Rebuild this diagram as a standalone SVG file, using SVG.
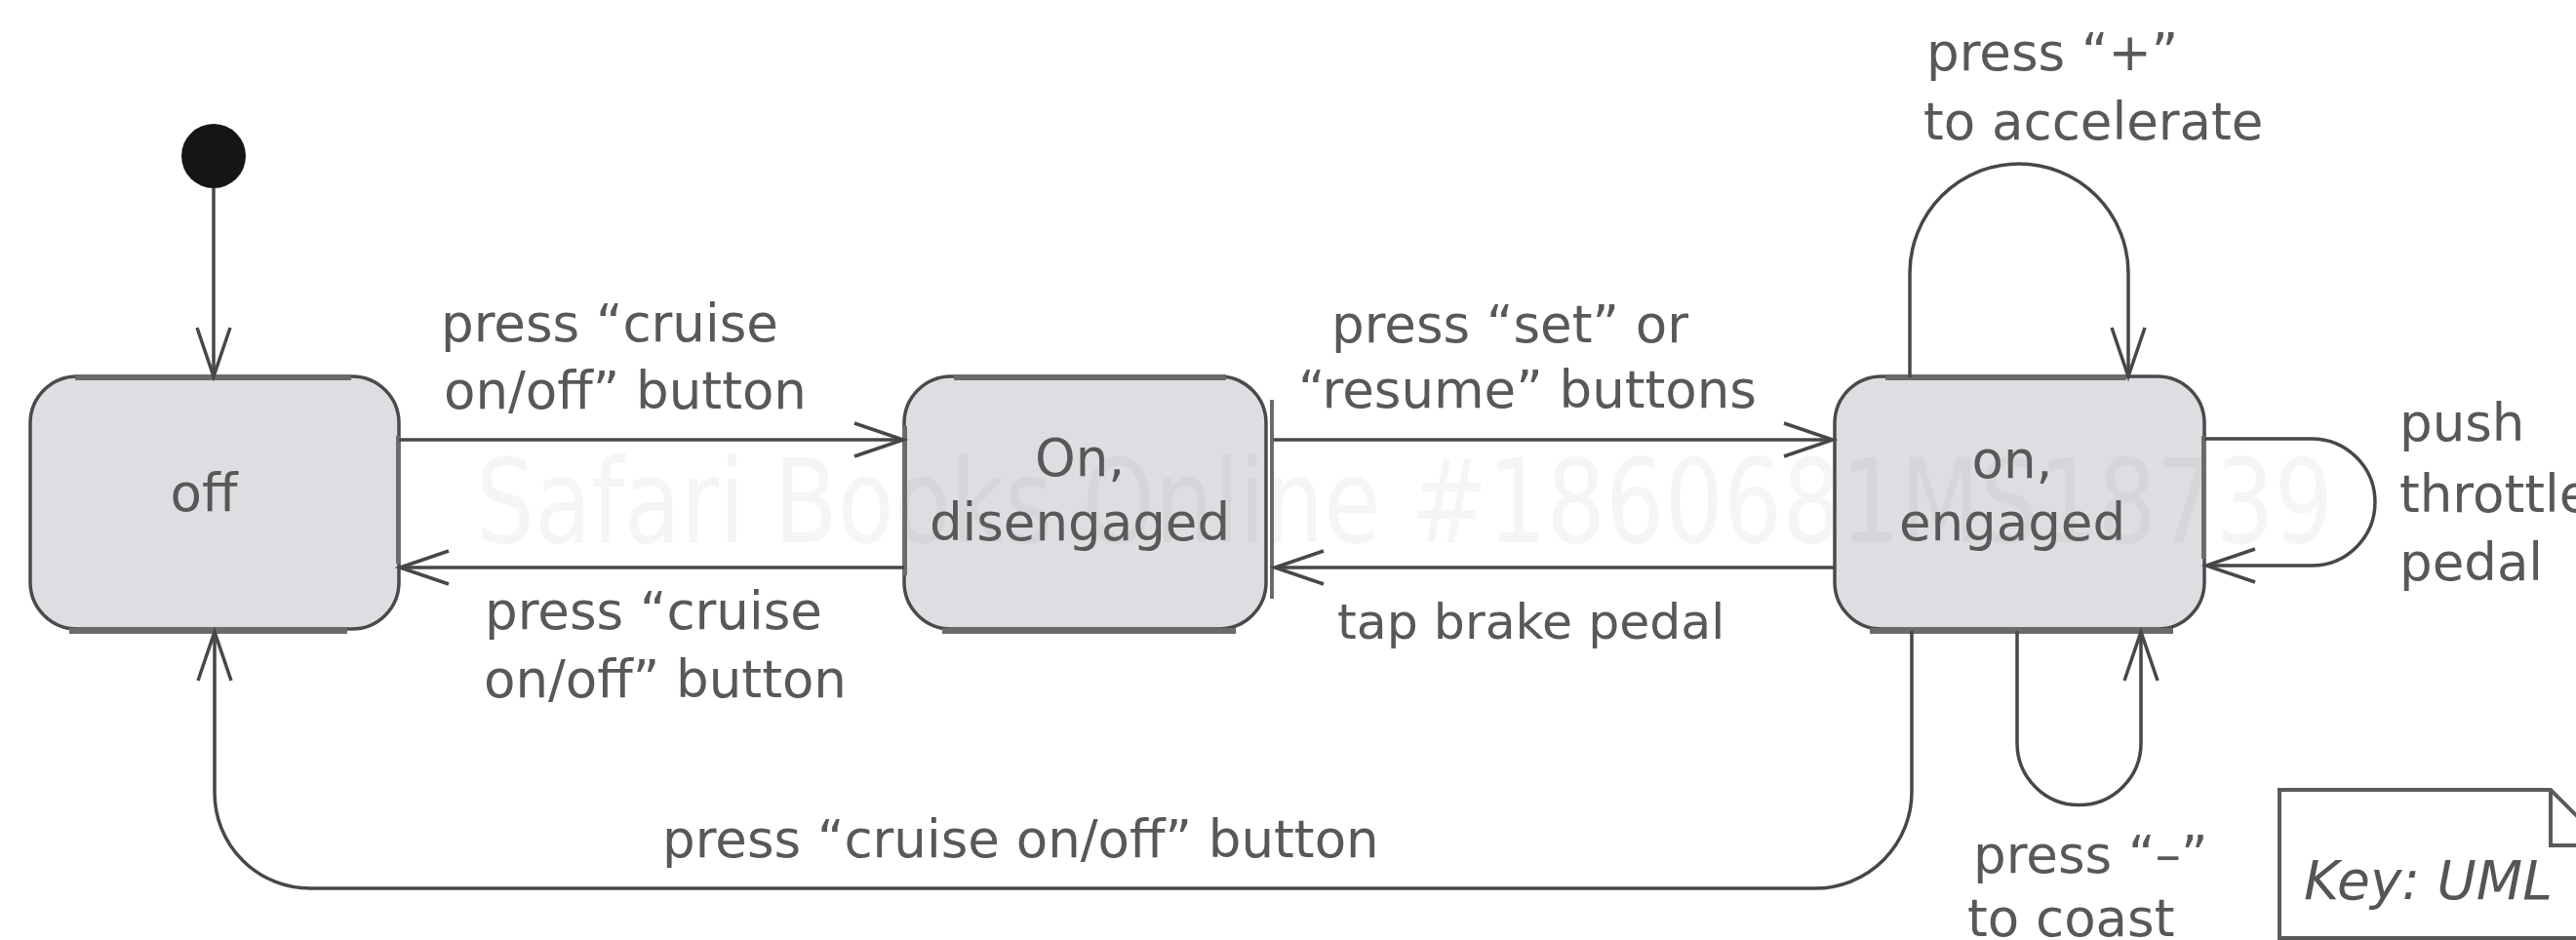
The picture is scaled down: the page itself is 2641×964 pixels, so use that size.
<svg xmlns="http://www.w3.org/2000/svg" width="2641" height="964" viewBox="0 0 2641 964">
<style>
.node{fill:#dedee2;stroke:#4a4a4a;stroke-width:3.5}
.bar{stroke:#6a6a6a;stroke-width:6;fill:none}
.edge{fill:none;stroke:#474747;stroke-width:3.5}
.lbl{font-family:"DejaVu Sans",Verdana,sans-serif;font-size:53px;fill:#585858}
.mid{text-anchor:middle}
.key{font-family:"DejaVu Sans",Verdana,sans-serif;font-size:55px;font-style:italic;fill:#555}
.wm{font-family:"DejaVu Sans",Verdana,sans-serif;font-size:120px;fill:#808080;fill-opacity:0.08}
</style>
<defs>
<marker id="arr" markerUnits="userSpaceOnUse" markerWidth="64" markerHeight="44" viewBox="-56 -22 64 44" refX="0" refY="0" orient="auto">
<path d="M-50,-17 L0,0 L-50,17" fill="none" stroke="#474747" stroke-width="3.5"/>
</marker>
</defs>
<rect width="2641" height="964" fill="#ffffff"/>

<g id="initial">
<circle cx="219" cy="160" r="33" fill="#151515"/>
</g>

<g id="off">
<rect class="node" x="31" y="386" width="378" height="259" rx="48" ry="48"/>
<line class="bar" x1="77" y1="387" x2="360" y2="387"/>
<line class="bar" x1="71" y1="647" x2="356" y2="647"/>
<line class="bar" x1="408" y1="447" x2="408" y2="578" style="stroke-width:4"/>
<text class="lbl" x="209" y="524" text-anchor="middle">off</text>
</g>

<g id="disengaged">
<rect class="node" x="927" y="386" width="371" height="259" rx="48" ry="48"/>
<line class="bar" x1="978" y1="387" x2="1257" y2="387"/>
<line class="bar" x1="966" y1="647" x2="1267" y2="647"/>
<line class="bar" x1="928" y1="437" x2="928" y2="590" style="stroke-width:4"/>
<line class="bar" x1="1304" y1="410" x2="1304" y2="614" style="stroke-width:4"/>
<text class="lbl mid" x="1107" y="488">On,</text>
<text class="lbl mid" x="1107" y="554">disengaged</text>
</g>

<g id="engaged">
<rect class="node" x="1881" y="386" width="379" height="259" rx="48" ry="48"/>
<line class="bar" x1="1933" y1="387" x2="2180" y2="387"/>
<line class="bar" x1="1917" y1="647" x2="2228" y2="647"/>
<line class="bar" x1="2259" y1="447" x2="2259" y2="573" style="stroke-width:4"/>
<text class="lbl mid" x="2063" y="490">on,</text>
<text class="lbl mid" x="2063" y="554">engaged</text>
</g>

<g id="key">
<path d="M2337,962 V810 H2615 L2672,867 V962 Z" fill="#ffffff" stroke="#5a5a5a" stroke-width="4"/>
<path d="M2615,810 V867 H2672" fill="none" stroke="#5a5a5a" stroke-width="4"/>
<text class="key" x="2362" y="922">Key: UML</text>
</g>

<g id="connectors">
<line class="edge" x1="219" y1="193" x2="219" y2="386" marker-end="url(#arr)"/>
<line class="edge" x1="409" y1="451" x2="926" y2="451" marker-end="url(#arr)"/>
<line class="edge" x1="927" y1="582" x2="410" y2="582" marker-end="url(#arr)"/>
<line class="edge" x1="1306" y1="451" x2="1879" y2="451" marker-end="url(#arr)"/>
<line class="edge" x1="1881" y1="582" x2="1307" y2="582" marker-end="url(#arr)"/>
<path class="edge" d="M1958,387 V280 A112,112 0 0 1 2182,280 V386" marker-end="url(#arr)"/>
<path class="edge" d="M2260,450 H2370 A65,65 0 0 1 2370,580 H2262" marker-end="url(#arr)"/>
<path class="edge" d="M2068,647 V762 A63.5,63.5 0 0 0 2195,762 V648" marker-end="url(#arr)"/>
<path class="edge" d="M1960,647 V812 A99,99 0 0 1 1861,911 H318 A98,98 0 0 1 220,813 V648" marker-end="url(#arr)"/>
</g>

<g id="labels">
<text class="lbl" x="452" y="350">press “cruise</text>
<text class="lbl" x="455" y="419">on/off” button</text>
<text class="lbl" x="497" y="645">press “cruise</text>
<text class="lbl" x="496" y="715">on/off” button</text>
<text class="lbl" x="1365" y="351">press “set” or</text>
<text class="lbl" x="1331" y="418">“resume” buttons</text>
<text class="lbl" x="1371" y="655" style="font-size:50.5px">tap brake pedal</text>
<text class="lbl" x="1975" y="72">press “+”</text>
<text class="lbl" x="1972" y="143">to accelerate</text>
<text class="lbl" x="2460" y="452">push</text>
<text class="lbl" x="2460" y="525">throttle</text>
<text class="lbl" x="2460" y="595">pedal</text>
<text class="lbl" x="2023" y="895">press “–”</text>
<text class="lbl" x="2017" y="960">to coast</text>
<text class="lbl" x="679" y="879">press “cruise on/off” button</text>
</g>

<text class="wm" x="488" y="556" textLength="1904" lengthAdjust="spacingAndGlyphs">Safari Books Online #1860681MS18739</text>
</svg>
